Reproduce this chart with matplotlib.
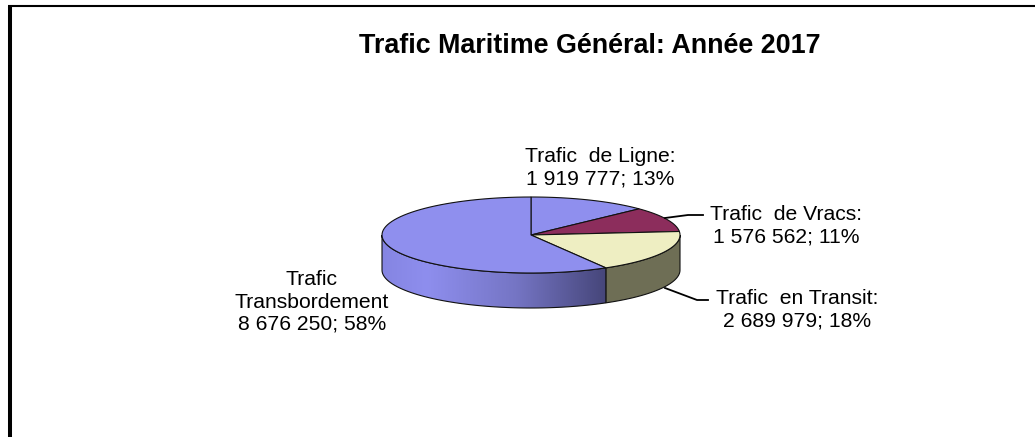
import numpy as np
import matplotlib
matplotlib.use("Agg")
import matplotlib.pyplot as plt
from matplotlib.patches import Polygon
from matplotlib.colors import LinearSegmentedColormap

plt.rcParams['font.family'] = ['Liberation Sans', 'DejaVu Sans']

title = "Trafic Maritime Général: Année 2017"
categories = ["Trafic  de Ligne:", "Trafic  de Vracs:", "Trafic  en Transit:", "Trafic\nTransbordement"]
values = [1919777, 1576562, 2689979, 8676250]
top_colors = ["#8F8FEE", "#8C2D5C", "#EEEEC2", "#8F8FEE"]
side_colors = ["#6A6AB0", "#5E1E3E", "#6E6E55", None]

total = float(sum(values))
fracs = [v / total for v in values]

def fmt(v):
    return f"{v:,}".replace(",", " ")

fig = plt.figure(figsize=(10.35, 4.37), dpi=100)
ax = fig.add_axes([0, 0, 1, 1])

cx, cy, rx, ry, depth = 531, 235, 149, 38, 35

def arc(a, b, dz=0, n=80):
    t = np.radians(np.linspace(a, b, n))
    return np.column_stack([cx + rx * np.sin(t), cy - ry * np.cos(t) + dz])

bounds = np.concatenate([[0], np.cumsum(fracs) * 360])

# side walls (front half only: 90..270 deg clockwise from top)
for i in range(len(values)):
    a, b = max(bounds[i], 90), min(bounds[i + 1], 270)
    if b <= a:
        continue
    top = arc(a, b)
    bot = arc(b, a, dz=depth)
    pts = np.vstack([top, bot])
    if side_colors[i] is None:
        poly = Polygon(pts, closed=True, facecolor='none', edgecolor='#111111', lw=0.8, zorder=3)
        ax.add_patch(poly)
        grad = np.linspace(0, 1, 256)[None, :]
        cmap = LinearSegmentedColormap.from_list(
            'g', [(0, '#8585E2'), (0.2, '#8E8EEE'), (0.6, '#7575C4'), (1, '#46467A')])
        im = ax.imshow(grad, extent=[pts[:, 0].min(), pts[:, 0].max(), pts[:, 1].max(), pts[:, 1].min()],
                       cmap=cmap, aspect='auto', zorder=2, interpolation='bilinear')
        im.set_clip_path(poly)
    else:
        ax.add_patch(Polygon(pts, closed=True, facecolor=side_colors[i], edgecolor='#111111',
                             lw=0.8, zorder=2))

# top faces
for i in range(len(values)):
    pts = np.vstack([[cx, cy], arc(bounds[i], bounds[i + 1])])
    ax.add_patch(Polygon(pts, closed=True, facecolor=top_colors[i], edgecolor='#111111',
                         lw=0.8, zorder=4))

# labels
lab_fs = 15.2
pcts = [round(f * 100) for f in fracs]
label_pos = [(600, 167.5), (786, 225.5), (797, 310), (312, 302)]
for i in range(len(values)):
    txt = f"{categories[i]}\n{fmt(values[i])}; {pcts[i]}%"
    ax.text(label_pos[i][0], label_pos[i][1], txt, ha='center', va='center',
            multialignment='center', fontsize=lab_fs, linespacing=1.22, color='black', zorder=6)

# leader lines
ax.plot([665, 688, 703], [218, 215, 215], color='black', lw=1.3, zorder=5)
ax.plot([665, 697, 708], [288, 300, 300], color='black', lw=1.3, zorder=5)

# title
ax.text(590, 46, title, ha='center', va='center', fontsize=19.4, fontweight='bold', color='black')

# frame
ax.plot([10, 10], [437, 6], color='black', lw=2.9, solid_capstyle='butt')
ax.plot([8, 1035], [6, 6], color='black', lw=1.5, solid_capstyle='butt')

ax.set_xlim(0, 1035)
ax.set_ylim(437, 0)
ax.axis('off')

fig.savefig("out.png", dpi=100)
